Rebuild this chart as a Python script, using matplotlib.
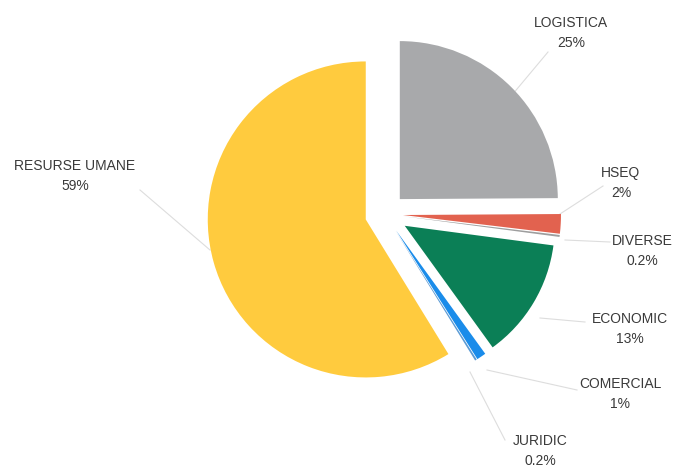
import matplotlib
matplotlib.use("Agg")
import matplotlib.pyplot as plt

# ---- data ----
categories = ["LOGISTICA", "HSEQ", "DIVERSE", "ECONOMIC", "COMERCIAL", "JURIDIC", "RESURSE UMANE"]
values = [25, 2, 0.2, 13, 1, 0.2, 59]
colors = ["#A8A9AB", "#E2624F", "#9E9E9E", "#0B7F56", "#1A8CEA", "#5B9BD5", "#FFCB3E"]

# ---- layout (pixel coordinates, y downwards) ----
W, H = 674, 470
center = (385, 214)
radius = 158
slice_radius = [158, 158, 158, 150, 152, 152, 158]
explode_px = [21, 18, 18, 23, 20, 20, 20]
label_pos = [(571, 33), (621, 183), (642, 251), (630, 329), (620, 394), (540, 451), (75, 176)]
leader = [((512, 95), (548, 52)),
          ((560, 214), (603, 186)),
          ((565, 240), (610, 242)),
          ((540, 318), (585, 322)),
          ((487, 370), (577, 390)),
          ((470, 372), (505, 440)),
          ((210, 250), (140, 190))]

fig = plt.figure(figsize=(W / 100, H / 100), dpi=100)
ax = fig.add_axes([0, 0, 1, 1])

wedges, _ = ax.pie(values, colors=colors, startangle=90, counterclock=False,
                   explode=explode_px, radius=radius, center=(center[0], H - center[1]),
                   wedgeprops=dict(linewidth=0), frame=True)
for w, r in zip(wedges, slice_radius):
    w.set_radius(r)
ax.set_xlim(0, W)
ax.set_ylim(0, H)
ax.set_aspect("equal")
ax.axis("off")

for (p0, p1) in leader:
    ax.plot([p0[0], p1[0]], [H - p0[1], H - p1[1]], color="#DDDDDD", lw=0.8, zorder=0)

for name, v, (x, y) in zip(categories, values, label_pos):
    ax.text(x, H - y, f"{name}\n{v:g}%", ha="center", va="center",
            fontsize=10, color="#3A3A3A", family="Liberation Sans",
            linespacing=1.55)

fig.savefig("out.png", dpi=100, facecolor="white")
